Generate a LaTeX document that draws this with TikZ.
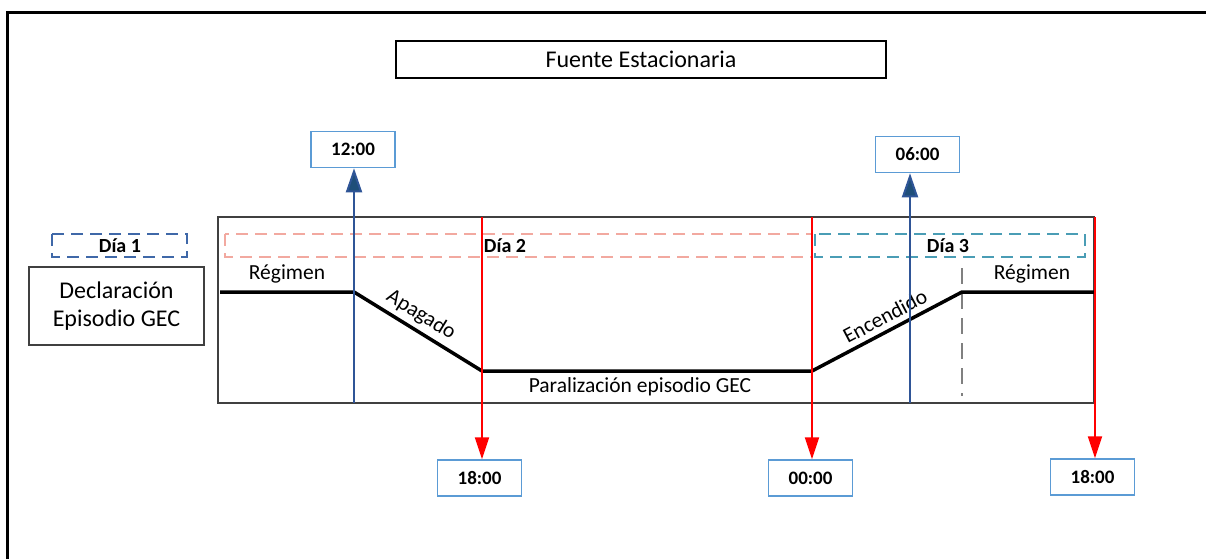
\documentclass[tikz,border=0pt]{standalone}
\usepackage{fontspec}
\setmainfont{Carlito}
\usetikzlibrary{arrows.meta}
\definecolor{timeblue}{HTML}{5B9BD5}
\definecolor{upblue}{HTML}{2F5597}
\definecolor{headblue}{HTML}{1F4E79}
\definecolor{diaone}{HTML}{3F68A8}
\definecolor{diatwo}{HTML}{F2A9A0}
\definecolor{diathree}{HTML}{4A9DB5}
\definecolor{framegray}{HTML}{404040}
\tikzset{
  txt/.style={font=\fontsize{21.5}{25}\selectfont,inner sep=1pt},
  diatxt/.style={font=\fontsize{20}{23}\selectfont\bfseries},
  timebox/.style={draw=timeblue,line width=1.5pt,fill=white,minimum width=84pt,minimum height=36pt,inner sep=0pt,font=\fontsize{19}{22}\selectfont\bfseries},
  daybox/.style={line width=1.4pt,dash pattern=on 12pt off 7pt},
  profile/.style={line width=3.5pt,line join=round},
  uparrow/.style={upblue,line width=2pt,-{Triangle[length=24pt,width=16pt,fill=headblue]}},
  downarrow/.style={red,line width=2pt,-{Triangle[length=22pt,width=14pt]}}
}
\begin{document}
\begin{tikzpicture}[x=1pt,y=-1pt]
\useasboundingbox (0,0) rectangle (1206,559);
%outer frame
\draw[line width=3pt](7,559)--(7,13)--(1206,13);
%title
\node[draw,line width=1.4pt,minimum width=490pt,minimum height=37pt,font=\fontsize{24}{27}\selectfont] (fuente) at (641,59.5){Fuente Estacionaria};
%left side
\draw[daybox,diaone](52,234)rectangle(187,257);
\node[diatxt] (dia1) at (120,246){Día 1};
\node[draw=framegray,line width=1.4pt,minimum width=175pt,minimum height=78pt,align=center,font=\fontsize{24}{28}\selectfont] (decl) at (116.5,306){Declaración\\Episodio GEC};
%main box
\draw[framegray,line width=1.4pt](218,217)rectangle(1094,403);
\draw[daybox,diatwo](225,234)rectangle(812,257);
\draw[daybox,diathree](815,234)rectangle(1085,257);
\node[diatxt] (dia2) at (505,246){Día 2};
\node[diatxt] (dia3) at (948,246){Día 3};
\draw[gray,line width=1.2pt,dash pattern=on 16pt off 9pt](962,268)--(962,396);
%profile
\coordinate (p0) at (220,292);
\coordinate (p1) at (354,292);
\coordinate (p2) at (482,371);
\coordinate (p3) at (812,371);
\coordinate (p4) at (962,292);
\coordinate (p5) at (1094,292);
\draw[profile](p0)--(p1)--(p2)--(p3)--(p4)--(p5);
\node[txt] (reg1) at (287,274){Régimen};
\node[txt] (reg2) at (1032,274){Régimen};
\node[txt,rotate=-31.7] (apag) at (421,315){Apagado};
\node[txt,rotate=27.8] (ence) at (885,316){Encendido};
\node[txt] (para) at (640,387){Paralización episodio GEC};
%times
\node[timebox] (t1200) at (353,149.5){12:00};
\node[timebox] (t0600) at (917.5,154.5){06:00};
\node[timebox] (t1800a) at (479.5,478){18:00};
\node[timebox] (t0000) at (810.5,478){00:00};
\node[timebox] (t1800b) at (1092.5,477){18:00};
\coordinate (b1) at (354,403);
\coordinate (b2) at (910,403);
\coordinate (r1) at (482,217);
\coordinate (r2) at (812,217);
\coordinate (r3) at (1095,217);
\draw[uparrow](b1)--(b1|-t1200.south);
\draw[uparrow](b2)--(b2|-t0600.south);
\draw[downarrow](r1)--(r1|-t1800a.north);
\draw[downarrow](r2)--(r2|-t0000.north);
\draw[downarrow](r3)--(r3|-t1800b.north);
\end{tikzpicture}
\end{document}
